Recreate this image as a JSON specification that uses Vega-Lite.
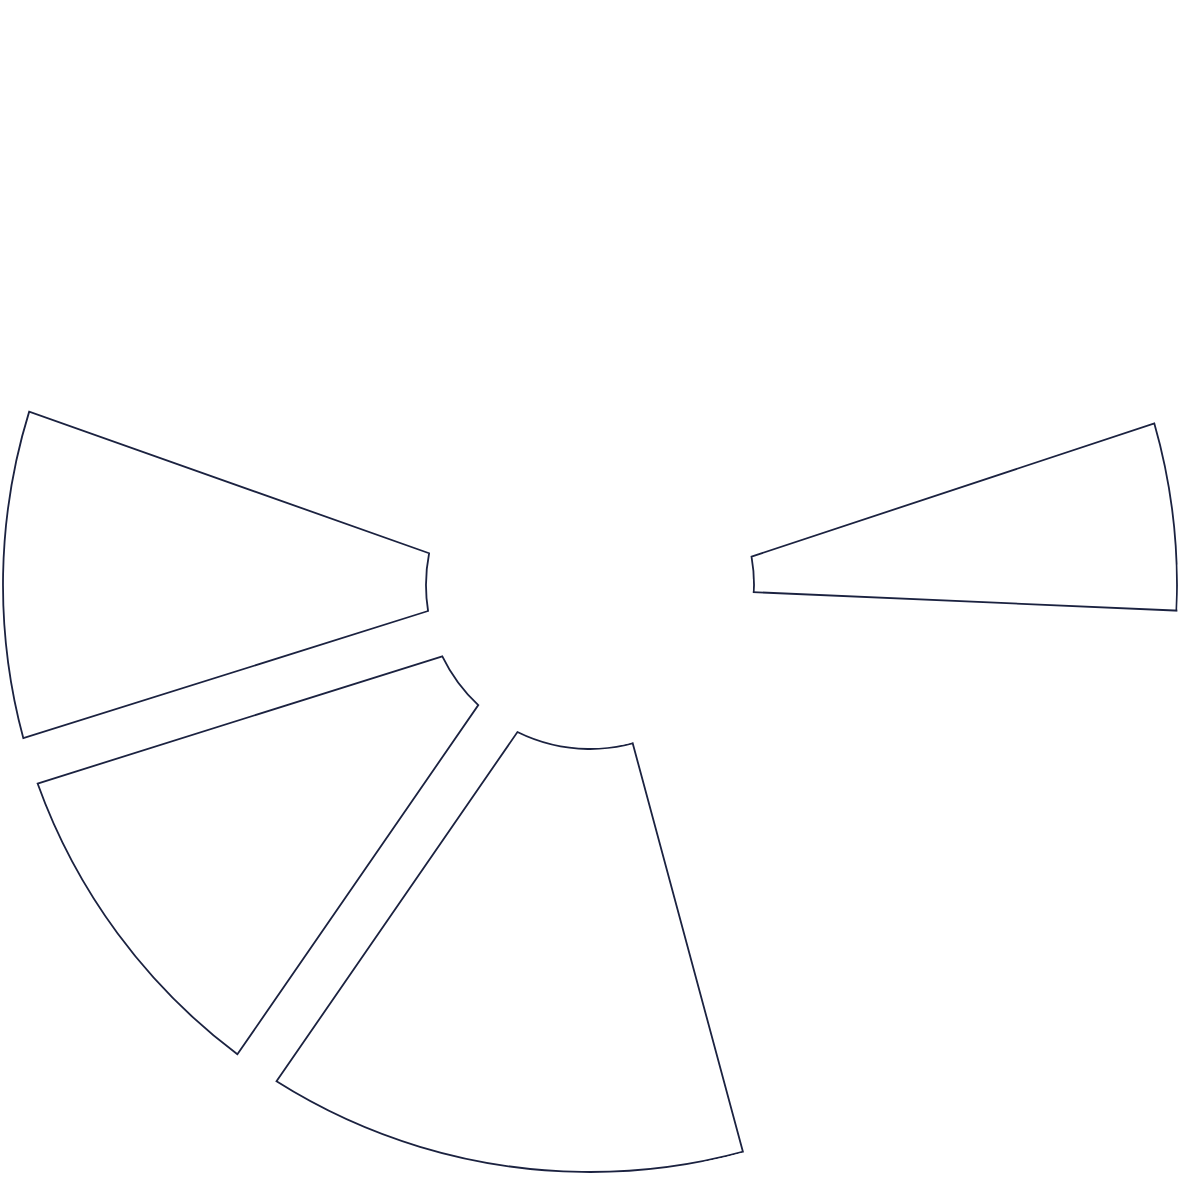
{
  "$schema": "https://vega.github.io/schema/vega-lite/v6.json",
  "width": 1180,
  "height": 1170,
  "padding": {"top": 0, "left": 0, "right": 0, "bottom": 7},
  "autosize": "none",
  "background": "white",
  "config": {"view": {"stroke": null}},
  "datasets": {
    "slices": [
      {"part": "A", "start": 71.7, "end": 110},
      {"part": "B", "start": 147, "end": 214.6},
      {"part": "C", "start": 214.6, "end": 252.55},
      {"part": "D", "start": 252.55, "end": 289.5}
    ],
    "gap": [{"part": "gap", "start": 92.5, "end": 164.9}],
    "mask": [{"part": "mask", "start": 88, "end": 169}]
  },
  "layer": [
    {
      "data": {"name": "slices"},
      "mark": {
        "type": "arc",
        "padAngle": 0.078,
        "innerRadius": 164,
        "outerRadius": 587,
        "fill": "white",
        "stroke": "#1b2240",
        "strokeWidth": 1.8
      },
      "encoding": {
        "theta": {"field": "start", "type": "quantitative", "scale": {"domain": [0, 360]}},
        "theta2": {"field": "end"}
      }
    },
    {
      "data": {"name": "gap"},
      "mark": {
        "type": "arc",
        "innerRadius": 100,
        "outerRadius": 1600,
        "fill": "white",
        "stroke": "#1b2240",
        "strokeWidth": 1.8
      },
      "encoding": {
        "theta": {"field": "start", "type": "quantitative", "scale": {"domain": [0, 360]}},
        "theta2": {"field": "end"}
      }
    },
    {
      "data": {"name": "mask"},
      "mark": {
        "type": "arc",
        "innerRadius": 588,
        "outerRadius": 1700,
        "fill": "white",
        "strokeWidth": 0
      },
      "encoding": {
        "theta": {"field": "start", "type": "quantitative", "scale": {"domain": [0, 360]}},
        "theta2": {"field": "end"}
      }
    },
    {
      "data": {"name": "mask"},
      "mark": {
        "type": "arc",
        "innerRadius": 50,
        "outerRadius": 163,
        "fill": "white",
        "strokeWidth": 0
      },
      "encoding": {
        "theta": {"field": "start", "type": "quantitative", "scale": {"domain": [0, 360]}},
        "theta2": {"field": "end"}
      }
    }
  ]
}
